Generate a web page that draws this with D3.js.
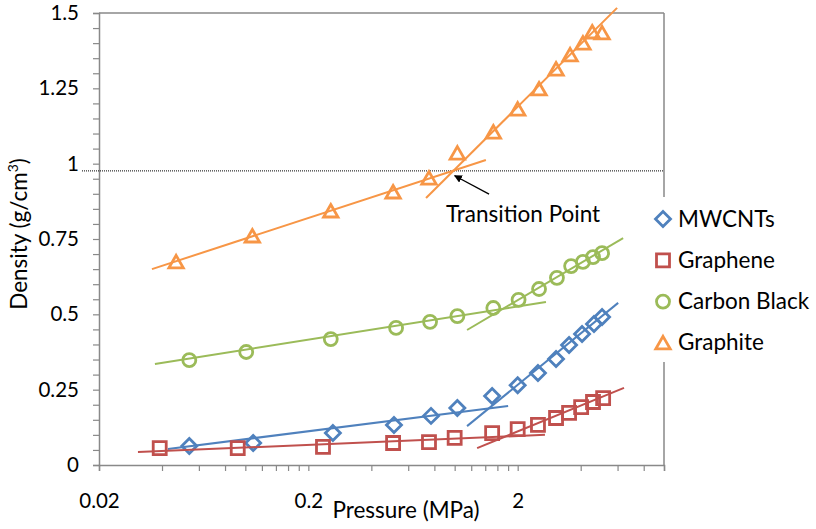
<!DOCTYPE html>
<html>
<head>
<meta charset="utf-8">
<script src="https://cdn.jsdelivr.net/npm/d3@7/dist/d3.min.js"></script>
<style>
  html, body { margin: 0; padding: 0; background: #fff; }
  svg { display: block; }
  text { font-family: Lato, "Open Sans", sans-serif; fill: #000; }
</style>
</head>
<body>
<svg id="chart" width="816" height="529"></svg>
<script>
// Compaction data: pressure (MPa) vs density (g/cm^3)
const seriesNames = ["MWCNTs", "Graphene", "Carbon Black", "Graphite"];
const seriesColors = ["#4F81BD", "#C0504D", "#9BBB59", "#F79646"];
const seriesSymbols = ["diamond", "square", "circle", "triangle"];

const mwcntsP   = [0.054, 0.109, 0.262, 0.513, 0.771, 1.03, 1.51, 2.0, 2.5, 3.05, 3.52, 4.06, 4.63, 5.06];
const mwcntsD   = [0.063, 0.073, 0.106, 0.133, 0.163, 0.189, 0.229, 0.265, 0.305, 0.352, 0.398, 0.435, 0.468, 0.491];
const grapheneP = [0.039, 0.092, 0.235, 0.508, 0.754, 1.0, 1.51, 2.0, 2.5, 3.05, 3.52, 4.02, 4.58, 5.12];
const grapheneD = [0.056, 0.056, 0.060, 0.073, 0.076, 0.090, 0.106, 0.119, 0.133, 0.156, 0.173, 0.192, 0.209, 0.222];
const carbonP   = [0.054, 0.101, 0.256, 0.525, 0.763, 1.03, 1.53, 2.02, 2.53, 3.08, 3.6, 4.1, 4.58, 5.06];
const carbonD   = [0.348, 0.375, 0.418, 0.455, 0.475, 0.494, 0.521, 0.548, 0.584, 0.621, 0.660, 0.674, 0.690, 0.703];
const graphiteP = [0.0467, 0.108, 0.256, 0.508, 0.754, 1.03, 1.53, 2.0, 2.53, 3.05, 3.56, 4.10, 4.54, 5.06];
const graphiteD = [0.674, 0.760, 0.843, 0.906, 0.952, 1.035, 1.105, 1.181, 1.248, 1.314, 1.361, 1.40, 1.437, 1.434];

// Logarithmic trend lines, two regimes per material: [p0, d0, p1, d1]
const mwcntsTrend   = [[0.0427, 0.053, 1.80, 0.196], [1.146, 0.129, 6.04, 0.538]];
const grapheneTrend = [[0.0307, 0.043, 2.70, 0.100], [1.28, 0.056, 6.44, 0.256]];
const carbonTrend   = [[0.037, 0.335, 2.73, 0.541], [1.146, 0.448, 6.38, 0.753]];
const graphiteTrend = [[0.0358, 0.650, 1.41, 1.012], [0.73, 0.886, 5.97, 1.517]];

// Reference density and transition point annotation
const referenceDensity = 0.976;
const transitionTip  = [1.0, 0.96];
const transitionTail = [1.46, 0.899];
const transitionLabel = "Transition Point";

// Axis settings
const xDomain = [0.02, 10];
const yDomain = [0, 1.5];
const xTickLabels = [0.02, 0.2, 2];
const xMinorTicks = [0.04, 0.06, 0.08, 0.1, 0.12, 0.14, 0.16, 0.18,
                     0.4, 0.6, 0.8, 1, 1.2, 1.4, 1.6, 1.8,
                     4, 6, 8, 10];
const yTickLabels = [0, 0.25, 0.5, 0.75, 1, 1.25, 1.5];
const xTitle = "Pressure (MPa)";
const yTitle = "Density (g/cm";

const series = [
  { p: mwcntsP,   d: mwcntsD,   trend: mwcntsTrend },
  { p: grapheneP, d: grapheneD, trend: grapheneTrend },
  { p: carbonP,   d: carbonD,   trend: carbonTrend },
  { p: graphiteP, d: graphiteD, trend: graphiteTrend }
];

const W = 816, H = 529;
const plot = { left: 99, top: 13, right: 664, bottom: 465 };
const axisColor = "#898989";
const labelSize = 22.5;
const tickSize = 20.5;

const svg = d3.select("#chart");
const x = d3.scaleLog().domain(xDomain).range([plot.left, plot.right]);
const y = d3.scaleLinear().domain(yDomain).range([plot.bottom, plot.top]);

// Plot frame (top and right)
svg.append("line").attr("x1", plot.left).attr("x2", plot.right)
  .attr("y1", plot.top).attr("y2", plot.top)
  .attr("stroke", axisColor).attr("stroke-width", 1.5);
svg.append("line").attr("x1", plot.right).attr("x2", plot.right)
  .attr("y1", plot.top).attr("y2", plot.bottom)
  .attr("stroke", axisColor).attr("stroke-width", 1.5);

// Y axis
const yAxis = d3.axisLeft(y).tickValues(d3.range(0, 1.5001, 0.05)).tickSize(6)
  .tickFormat(d => {
    const m = yTickLabels.find(v => Math.abs(v - d) < 1e-6);
    return m === undefined ? "" : String(m);
  });
const gy = svg.append("g").attr("transform", `translate(${plot.left},0)`).call(yAxis);
gy.select(".domain").attr("stroke", axisColor).attr("stroke-width", 1.5);
gy.selectAll(".tick line").attr("stroke", axisColor).attr("stroke-width", 1.2);
gy.selectAll(".tick text").attr("x", -20).attr("font-size", tickSize)
  .attr("font-family", "Lato, sans-serif").attr("fill", "#000");

// X axis
const xAxis = d3.axisBottom(x).tickValues(xTickLabels.concat(xMinorTicks)).tickSize(6)
  .tickFormat(d => xTickLabels.includes(d) ? String(d) : "");
const gx = svg.append("g").attr("transform", `translate(0,${plot.bottom})`).call(xAxis);
gx.select(".domain").attr("stroke", axisColor).attr("stroke-width", 1.5);
gx.selectAll(".tick line").attr("stroke", axisColor).attr("stroke-width", 1.2);
gx.selectAll(".tick text").attr("y", 28).attr("font-size", tickSize)
  .attr("font-family", "Lato, sans-serif").attr("fill", "#000");

// Reference density line
svg.append("line")
  .attr("x1", plot.left - 17).attr("x2", plot.right)
  .attr("y1", y(referenceDensity)).attr("y2", y(referenceDensity))
  .attr("stroke", "#000").attr("stroke-width", 1).attr("stroke-dasharray", "1,1");

// Marker shapes
function markerPath(type) {
  switch (type) {
    case "diamond": return "M0,-7.5L7.5,0L0,7.5L-7.5,0Z";
    case "square": return "M-6.5,-6.5H6.5V6.5H-6.5Z";
    case "circle": return "M6.5,0A6.5,6.5 0 1,1 -6.5,0A6.5,6.5 0 1,1 6.5,0Z";
    case "triangle": return "M0,-6.5L7.2,6L-7.2,6Z";
  }
}

// Trend lines and markers
series.forEach((s, i) => {
  const g = svg.append("g");
  g.selectAll("line.trend").data(s.trend).join("line")
    .attr("class", "trend")
    .attr("x1", t => x(t[0])).attr("y1", t => y(t[1]))
    .attr("x2", t => x(t[2])).attr("y2", t => y(t[3]))
    .attr("stroke", seriesColors[i]).attr("stroke-width", 2);
  g.selectAll("path.pt").data(d3.zip(s.p, s.d)).join("path")
    .attr("class", "pt")
    .attr("d", markerPath(seriesSymbols[i]))
    .attr("transform", d => `translate(${x(d[0])},${y(d[1])})`)
    .attr("fill", "none").attr("stroke", seriesColors[i]).attr("stroke-width", 2.8)
    .attr("stroke-linejoin", "miter");
});

// Transition point annotation
svg.append("defs").append("marker")
  .attr("id", "arrowhead").attr("viewBox", "0 0 10 10")
  .attr("refX", 9).attr("refY", 5)
  .attr("markerWidth", 8).attr("markerHeight", 8)
  .attr("markerUnits", "userSpaceOnUse")
  .attr("orient", "auto")
  .append("path").attr("d", "M0,0L10,5L0,10Z").attr("fill", "#000");
svg.append("line")
  .attr("x1", x(transitionTail[0])).attr("y1", y(transitionTail[1]))
  .attr("x2", x(transitionTip[0])).attr("y2", y(transitionTip[1]))
  .attr("stroke", "#000").attr("stroke-width", 1.3)
  .attr("marker-end", "url(#arrowhead)");
svg.append("text")
  .attr("x", 446).attr("y", 222)
  .attr("font-size", labelSize).text(transitionLabel);

// Legend
const legend = svg.append("g");
legend.append("rect").attr("x", 650).attr("y", 197).attr("width", 166).attr("height", 165)
  .attr("fill", "#fff");
seriesNames.forEach((name, i) => {
  const ly = 219 + i * 41.3;
  legend.append("path")
    .attr("d", markerPath(seriesSymbols[i]))
    .attr("transform", `translate(663,${ly})`)
    .attr("fill", "none").attr("stroke", seriesColors[i]).attr("stroke-width", 2.8);
  legend.append("text").attr("x", 678).attr("y", ly + 7.5)
    .attr("font-size", labelSize).text(name);
});

// Axis titles
svg.append("text").attr("x", 406).attr("y", 518).attr("text-anchor", "middle")
  .attr("font-size", labelSize).text(xTitle);
const yt = svg.append("text")
  .attr("transform", "translate(27,234) rotate(-90)")
  .attr("text-anchor", "middle").attr("font-size", labelSize);
yt.append("tspan").text(yTitle);
yt.append("tspan").attr("font-size", 14).attr("dy", -9).text("3");
yt.append("tspan").attr("dy", 9).text(")");
</script>
</body>
</html>
